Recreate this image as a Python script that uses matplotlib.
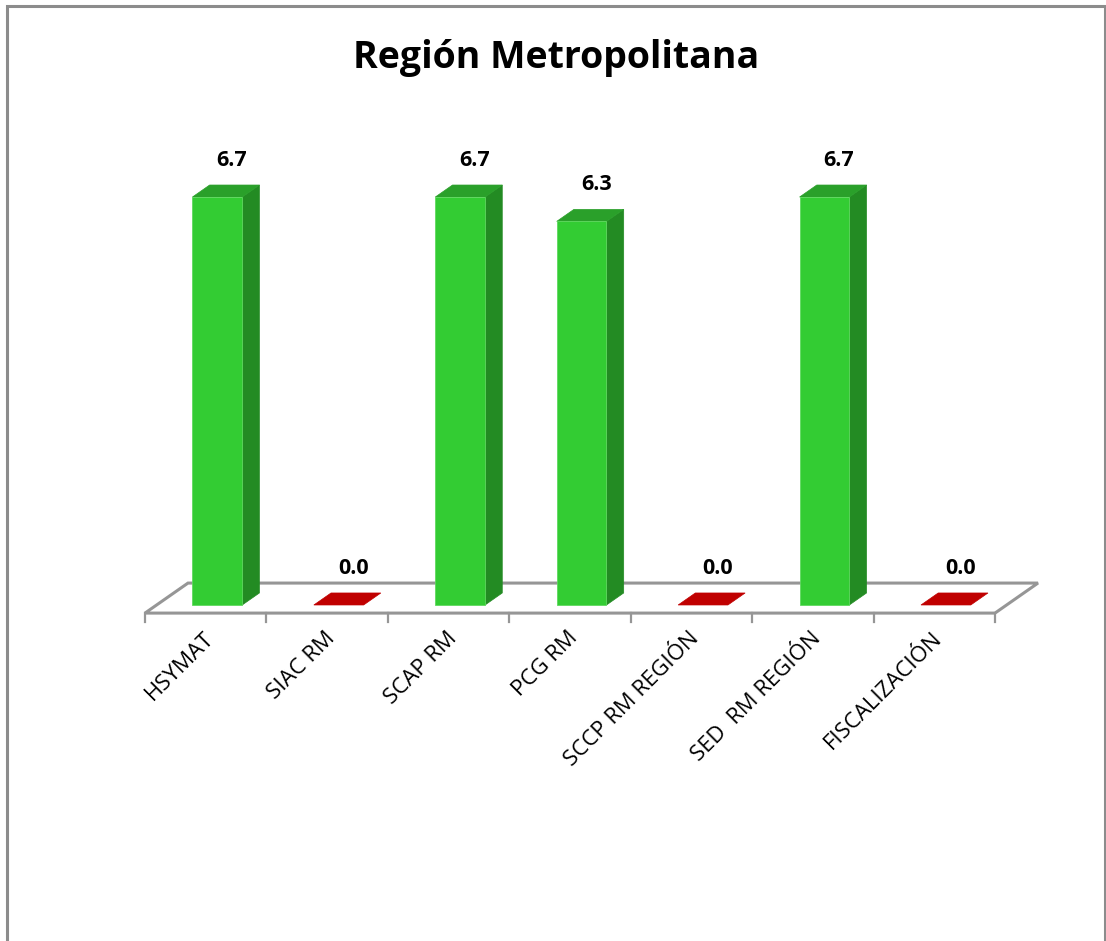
"""Región Metropolitana: 3-D style column chart."""
import matplotlib
matplotlib.use("Agg")
import matplotlib.pyplot as plt
from matplotlib.patches import Polygon, Rectangle

categories = ["HSYMAT", "SIAC RM", "SCAP RM", "PCG RM",
              "SCCP RM REGIÓN", "SED  RM REGIÓN", "FISCALIZACIÓN"]
values = [6.7, 0.0, 6.7, 6.3, 0.0, 6.7, 0.0]
title = "Región Metropolitana"

# 3-D look: floor depth offset in data units, bar position inside that depth
DX, DY = 0.354, 0.493
FLOOR_Y = -0.131
T_FRONT, T_BACK = 0.27, 0.67
BAR_W = 0.41

GREEN_FRONT = "#33cc33"
GREEN_SIDE = "#238b23"
GREEN_TOP = "#2aa02a"
RED = "#c00000"
GRID = "#969696"

W, H = 1106, 941
fig = plt.figure(figsize=(W / 100, H / 100), dpi=100)
fig.patch.set_facecolor("white")
plt.rcParams["font.family"] = ["Open Sans", "DejaVu Sans"]

# outer chart border
fig.add_artist(Rectangle((7 / W, -0.01), 1098 / W, 1 - 6 / H + 0.01,
                         transform=fig.transFigure, fill=False,
                         edgecolor="#8c8c8c", lw=2.2))

ax = fig.add_axes([145 / W, 275 / H, 850 / W, 548 / H])
ax.set_xlim(0, len(categories))
ax.set_ylim(-1, 8)
ax.axis("off")

n = len(categories)


def pt(x, v, t):
    return (x + t * DX, FLOOR_Y + v + t * DY)


# floor
floor = Polygon([pt(0, 0, 0), pt(n, 0, 0), pt(n, 0, 1), pt(0, 0, 1)],
                closed=True, facecolor="white", edgecolor=GRID, lw=2.2,
                joinstyle="miter", clip_on=False, zorder=1)
ax.add_patch(floor)
for i in range(n + 1):
    ax.plot([i, i], [FLOOR_Y, FLOOR_Y - 0.15], color=GRID, lw=1.6,
            clip_on=False, zorder=1)

for i, (cat, v) in enumerate(zip(categories, values)):
    x0 = i + 0.5 - BAR_W / 2
    x1 = x0 + BAR_W
    base = 0.0
    if v > 0:
        front = [pt(x0, base, T_FRONT), pt(x1, base, T_FRONT),
                 pt(x1, v, T_FRONT), pt(x0, v, T_FRONT)]
        side = [pt(x1, base, T_FRONT), pt(x1, base, T_BACK),
                pt(x1, v, T_BACK), pt(x1, v, T_FRONT)]
        top = [pt(x0, v, T_FRONT), pt(x1, v, T_FRONT),
               pt(x1, v, T_BACK), pt(x0, v, T_BACK)]
        ax.add_patch(Polygon(side, closed=True, facecolor=GREEN_SIDE,
                             edgecolor=GREEN_SIDE, lw=0.5, zorder=3))
        ax.add_patch(Polygon(top, closed=True, facecolor=GREEN_TOP,
                             edgecolor=GREEN_TOP, lw=0.5, zorder=3))
        ax.add_patch(Polygon(front, closed=True, facecolor=GREEN_FRONT,
                             edgecolor="#5fd85f", lw=0.6, zorder=4))
    else:
        top = [pt(x0, v, T_FRONT), pt(x1, v, T_FRONT),
               pt(x1, v, T_BACK), pt(x0, v, T_BACK)]
        ax.add_patch(Polygon(top, closed=True, facecolor=RED,
                             edgecolor=RED, lw=0.5, zorder=3))

    lx, ly = pt(i + 0.5 + 0.12, v, T_FRONT)
    ax.text(lx, ly + 0.6, f"{v:.1f}", ha="center", va="center",
            fontsize=15.5, fontweight="bold", color="black", zorder=5)

    ax.text(i + 0.5 + 0.04, FLOOR_Y - 0.36, cat, rotation=45,
            rotation_mode="anchor", ha="right", va="center",
            fontsize=16, color="black")

fig.text(556 / W, 1 - 58 / H, title, ha="center", va="center",
         fontsize=27, fontweight="bold", color="black")

fig.savefig("out.png", dpi=100)
plt.close(fig)
